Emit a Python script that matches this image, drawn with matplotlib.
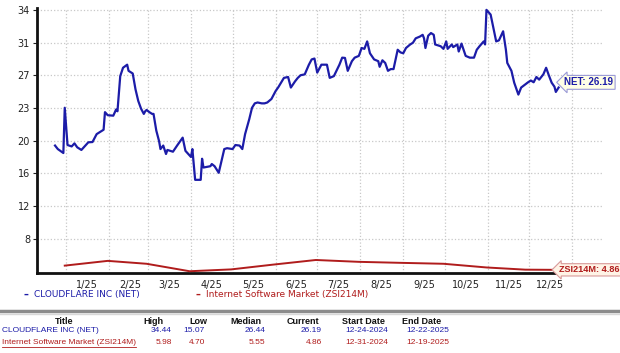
import matplotlib
matplotlib.use("Agg")
import matplotlib.pyplot as plt
import matplotlib.dates as mdates
from matplotlib.lines import Line2D
import numpy as np
import pandas as pd

net_dates = [
    "2024-12-24", "2024-12-26", "2024-12-30", "2024-12-31", "2025-01-02", "2025-01-05",
    "2025-01-07", "2025-01-09", "2025-01-12", "2025-01-17", "2025-01-20", "2025-01-23",
    "2025-01-28", "2025-01-29", "2025-01-31", "2025-02-04", "2025-02-06", "2025-02-07",
    "2025-02-09", "2025-02-11", "2025-02-14", "2025-02-15", "2025-02-18", "2025-02-20",
    "2025-02-22", "2025-02-24", "2025-02-26", "2025-02-27", "2025-02-28", "2025-03-02",
    "2025-03-04", "2025-03-05", "2025-03-07", "2025-03-09", "2025-03-10", "2025-03-12",
    "2025-03-14", "2025-03-15", "2025-03-19", "2025-03-22", "2025-03-26", "2025-03-28",
    "2025-04-01", "2025-04-02", "2025-04-04", "2025-04-08", "2025-04-09", "2025-04-10",
    "2025-04-15", "2025-04-16", "2025-04-18", "2025-04-21", "2025-04-25", "2025-04-27",
    "2025-05-01", "2025-05-03", "2025-05-06", "2025-05-08", "2025-05-10", "2025-05-13",
    "2025-05-15", "2025-05-17", "2025-05-19", "2025-05-22", "2025-05-24", "2025-05-26",
    "2025-05-29", "2025-06-01", "2025-06-03", "2025-06-07", "2025-06-10", "2025-06-12",
    "2025-06-15", "2025-06-17", "2025-06-19", "2025-06-22", "2025-06-25", "2025-06-27",
    "2025-06-29", "2025-07-01", "2025-07-04", "2025-07-08", "2025-07-10", "2025-07-13",
    "2025-07-17", "2025-07-19", "2025-07-21", "2025-07-23", "2025-07-26", "2025-07-28",
    "2025-07-31", "2025-08-02", "2025-08-04", "2025-08-06", "2025-08-08", "2025-08-11",
    "2025-08-14", "2025-08-15", "2025-08-17", "2025-08-19", "2025-08-21", "2025-08-23",
    "2025-08-25", "2025-08-28", "2025-08-30", "2025-09-01", "2025-09-03", "2025-09-06",
    "2025-09-08", "2025-09-10", "2025-09-13", "2025-09-15", "2025-09-16", "2025-09-17",
    "2025-09-19", "2025-09-21", "2025-09-23", "2025-09-24", "2025-09-28", "2025-09-30",
    "2025-10-02", "2025-10-03", "2025-10-06", "2025-10-07", "2025-10-10", "2025-10-11",
    "2025-10-13", "2025-10-16", "2025-10-19", "2025-10-22", "2025-10-24", "2025-10-26",
    "2025-10-29", "2025-10-30", "2025-10-31", "2025-11-03", "2025-11-07", "2025-11-09",
    "2025-11-12", "2025-11-14", "2025-11-15", "2025-11-18", "2025-11-20", "2025-11-23",
    "2025-11-25", "2025-11-28", "2025-11-30", "2025-12-02", "2025-12-04", "2025-12-06",
    "2025-12-08", "2025-12-11", "2025-12-13", "2025-12-15", "2025-12-17", "2025-12-19",
    "2025-12-20", "2025-12-22",
]
net_values = [
    19.0, 18.6, 18.15, 23.3, 19.06, 18.9,
    19.25, 18.8, 18.5, 19.37, 19.4, 20.3,
    20.8, 22.8, 22.45, 22.4, 23.1, 22.9,
    26.9, 27.85, 28.2, 27.5, 27.2, 25.4,
    24.07, 23.2, 22.6, 22.9, 23.05, 22.8,
    22.6, 22.6, 20.7, 19.5, 18.6, 19.0,
    18.04, 18.5, 18.3, 19.0, 19.9, 18.4,
    17.7, 18.6, 15.1, 15.1, 17.5, 16.5,
    16.65, 16.9, 16.65, 15.9, 18.6, 18.7,
    18.6, 19.06, 19.0, 18.6, 20.3, 22.0,
    23.3, 23.8, 23.9, 23.8, 23.8, 23.9,
    24.3, 25.2, 25.65, 26.7, 26.8, 25.6,
    26.3, 26.7, 27.0, 27.1, 28.2, 28.8,
    28.9, 27.3, 28.2, 28.2, 26.7, 26.9,
    28.2, 29.0, 28.97, 27.5, 28.6, 29.0,
    29.2, 30.1, 30.0, 30.85, 29.5, 28.8,
    28.6, 27.96, 28.7, 28.4, 27.5, 27.7,
    27.7, 29.9, 29.6, 29.5, 30.1, 30.5,
    30.7, 31.2, 31.4, 31.6, 31.2, 30.1,
    31.5, 31.8, 31.6, 30.5, 30.3, 30.0,
    30.85, 30.0, 30.5, 30.2, 30.5, 29.7,
    30.6, 29.2, 29.0, 29.0, 29.9, 30.3,
    30.85, 30.5, 34.44, 33.9, 30.85, 30.97,
    32.0, 29.9, 28.4, 27.5, 26.15, 24.8,
    25.6, 25.96, 26.2, 26.4, 26.2, 26.8,
    26.5, 27.1, 27.85, 26.97, 26.15, 25.7,
    25.1, 25.6,
]

zsi_dates = ["2024-12-31", "2025-01-31", "2025-02-28", "2025-03-31", "2025-04-30",
             "2025-05-30", "2025-06-30", "2025-07-31", "2025-08-29", "2025-09-30",
             "2025-10-31", "2025-11-28", "2025-12-19"]
zsi_values = [5.34, 5.88, 5.55, 4.70, 4.91, 5.45, 5.98, 5.77, 5.66, 5.55, 5.13, 4.88, 4.86]

table_header = ["Title", "High", "Low", "Median", "Current", "Start Date", "End Date"]
table_rows = [
    ["CLOUDFLARE INC (NET)", "34.44", "15.07", "26.44", "26.19", "12-24-2024", "12-22-2025"],
    ["Internet Software Market (ZSI214M)", "5.98", "4.70", "5.55", "4.86", "12-31-2024", "12-19-2025"],
]
net_label = "NET: 26.19"
zsi_label = "ZSI214M: 4.86"

blue = "#1c1ca8"
red = "#b01c1c"
W, H = 620, 353
narrow = ['Liberation Sans', 'DejaVu Sans']

plt.rcParams['font.family'] = ['DejaVu Sans']
fig = plt.figure(figsize=(6.2, 3.53), dpi=100)
ax = fig.add_axes([37 / W, 1 - 273 / H, (603 - 37) / W, (273 - 8) / H])

nd = pd.to_datetime(net_dates)
zd = pd.to_datetime(zsi_dates)
ax.plot(nd, net_values, color=blue, lw=1.6, zorder=3)
ax.plot(zd, zsi_values, color=red, lw=1.4, zorder=3)

ax.set_xlim(pd.Timestamp("2024-12-11"), pd.Timestamp("2026-01-23"))
ax.set_ylim(4.5, 34.65)

yt = np.linspace(4.70, 34.44, 9)[1:]
ax.set_yticks(yt)
ax.set_yticklabels([str(int(round(v))) for v in yt])

ax.xaxis.set_major_locator(mdates.MonthLocator())
ax.xaxis.set_major_formatter(plt.NullFormatter())
ax.xaxis.set_minor_locator(mdates.MonthLocator(bymonthday=16))
ax.xaxis.set_minor_formatter(plt.FuncFormatter(
    lambda v, p: f"{mdates.num2date(v).month}/{mdates.num2date(v).strftime('%y')}"
    if mdates.num2date(v).year == 2025 else ""))
ax.tick_params(axis='x', which='both', length=0, labelsize=7, colors='#222222', pad=5)
ax.tick_params(axis='y', length=3, labelsize=7, colors='#222222', pad=2)

ax.grid(True, which='major', color='#c8c8c8', linestyle=':', linewidth=0.9)
for s in ['top', 'right']:
    ax.spines[s].set_visible(False)
for s in ['left', 'bottom']:
    ax.spines[s].set_linewidth(2)
    ax.spines[s].set_color('#111111')

ax.annotate(net_label, xy=(nd[-1], 26.19), xytext=(4, 0), textcoords='offset points',
            va='center', ha='left', fontsize=7, fontweight='bold', color=blue,
            family=narrow,
            bbox=dict(boxstyle='larrow,pad=0.2', fc='#ffffe6', ec='#9a9ad8', lw=0.8),
            annotation_clip=False, zorder=5)
ax.annotate(zsi_label, xy=(zd[-1], zsi_values[-1]), xytext=(3, 0), textcoords='offset points',
            va='center', ha='left', fontsize=6.6, fontweight='bold', color=red,
            family=narrow,
            bbox=dict(boxstyle='larrow,pad=0.18', fc='#fff3e6', ec='#d89a9a', lw=0.8),
            annotation_clip=False, zorder=5)

# legend line under the axis
def fy(py):
    return 1 - py / H

fig.text(24 / W, fy(295), "\u2013 ", color=blue, fontsize=7, fontweight='bold', va='center')
fig.text(34 / W, fy(295), "CLOUDFLARE INC (NET)", color=blue, fontsize=6.5, va='center')
fig.text(196 / W, fy(295), "\u2013 ", color=red, fontsize=7, fontweight='bold', va='center')
fig.text(206 / W, fy(295), "Internet Software Market (ZSI214M)", color=red, fontsize=6.5, va='center')

fig.add_artist(Line2D([0, 1], [fy(311), fy(311)], transform=fig.transFigure,
                      color='#8c8c8c', lw=2.5))
fig.add_artist(Line2D([0, 1], [fy(313.5), fy(313.5)], transform=fig.transFigure,
                      color='#d8d8d8', lw=1))

# summary table
col_center = [64, 153, 198, 246, 303, 363, 422]
col_right = [None, 172, 205, 265, 322, None, None]
date_center = [367, 428]
for c, txt in enumerate(table_header):
    fig.text(col_center[c] / W, fy(321), txt, fontsize=6.5, fontweight='bold',
             ha='center', va='center', color='#111111', family=narrow)
renderer = fig.canvas.get_renderer()
for r, (row, col) in enumerate(zip(table_rows, [blue, red])):
    y = fy(331 + r * 11)
    t = fig.text(2 / W, y, row[0], fontsize=6.0, color=col, va='center', ha='left', family=narrow)
    if r == 1:
        bb = t.get_window_extent(renderer)
        fig.add_artist(Line2D([bb.x0 / W, bb.x1 / W], [y - 4.5 / H, y - 4.5 / H],
                              transform=fig.transFigure, color=col, lw=0.6))
    for c in range(1, 5):
        fig.text(col_right[c] / W, y, row[c], fontsize=6.0, color=col, va='center',
                 ha='right', family=narrow)
    fig.text(date_center[0] / W, y, row[5], fontsize=6.0, color=col, va='center',
             ha='center', family=narrow)
    fig.text(date_center[1] / W, y, row[6], fontsize=6.0, color=col, va='center',
             ha='center', family=narrow)

fig.savefig("out.png", dpi=100)
